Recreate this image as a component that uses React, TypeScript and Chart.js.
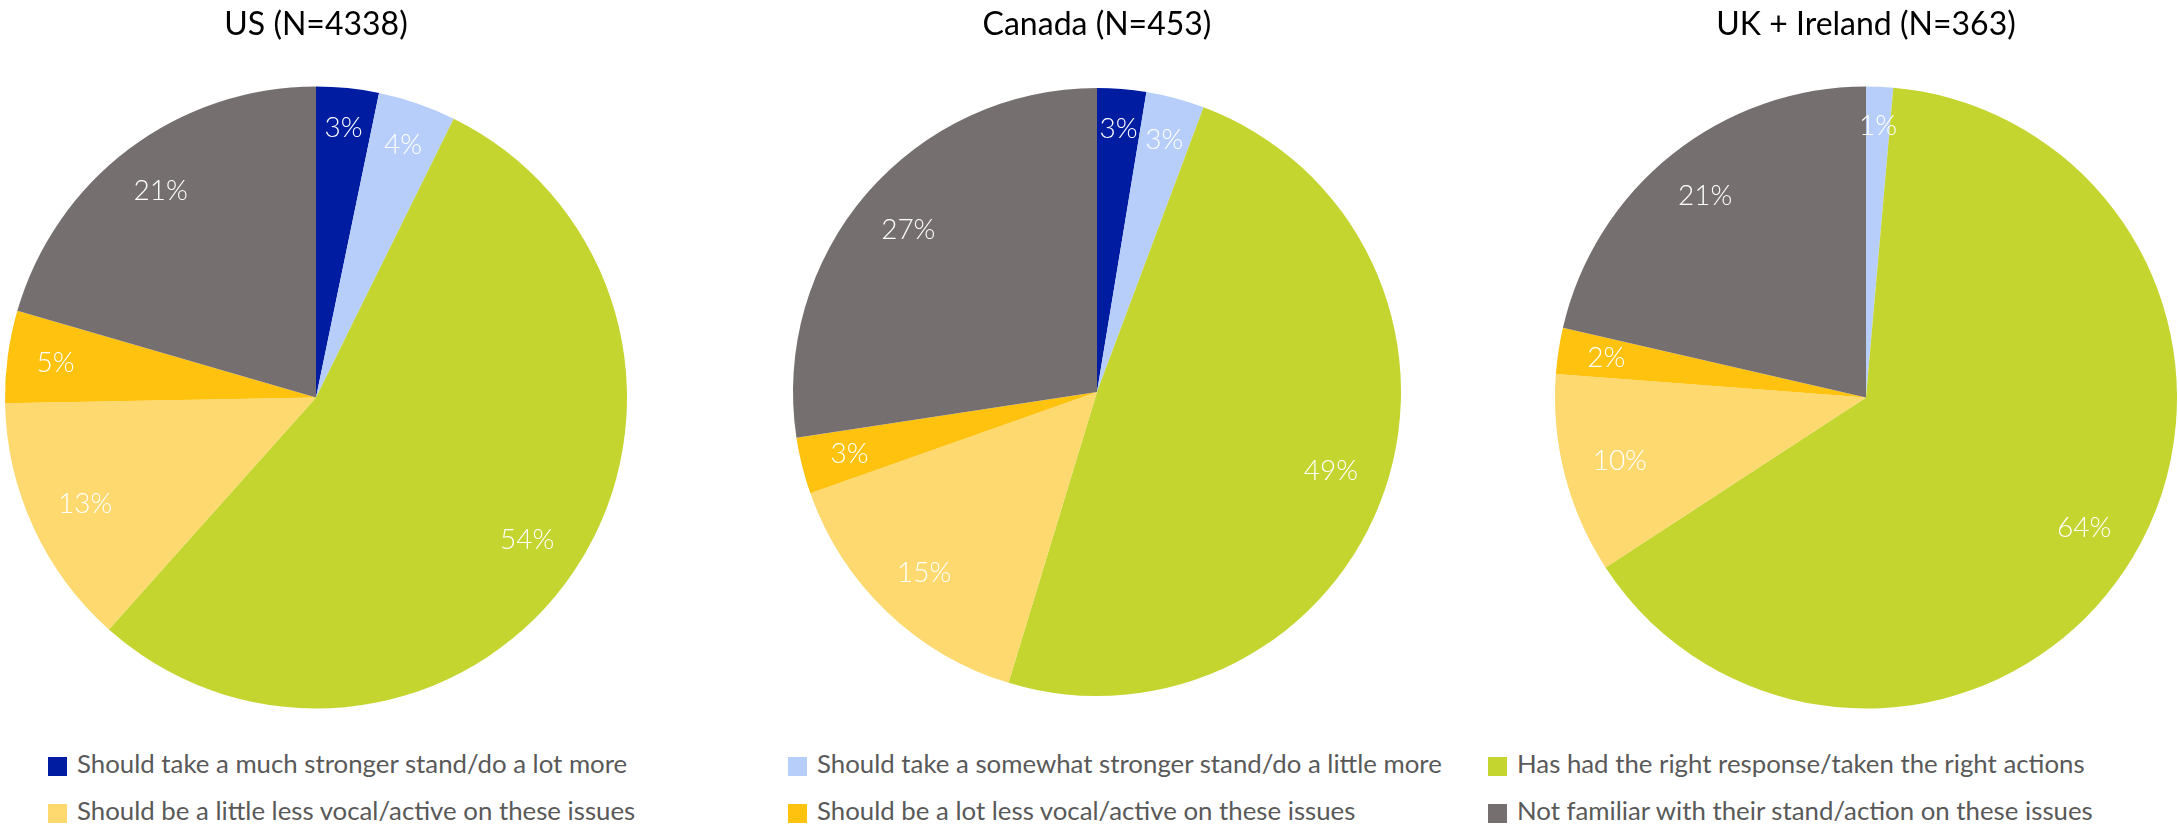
import React, { useEffect, useRef } from "react";
import { Chart, registerables } from "chart.js";

Chart.register(...registerables);

// ---------- DATA ----------
const categories = [
  "Should take a much stronger stand/do a lot more",
  "Should take a somewhat stronger stand/do a little more",
  "Has had the right response/taken the right actions",
  "Should be a little less vocal/active on these issues",
  "Should be a lot less vocal/active on these issues",
  "Not familiar with their stand/action on these issues",
];
const sliceColors = ["#001DA1", "#B7CEFB", "#C4D530", "#FDD96F", "#FFC20E", "#75706F"];
const usValues = [3.25, 4.05, 54.3, 13.1, 4.8, 20.5];
const canadaValues = [2.6, 3.1, 49.0, 14.9, 3.0, 27.4];
const ukValues = [0, 1.4, 64.4, 10.4, 2.4, 21.4];
const chartTitles = ["US (N=4338)", "Canada (N=453)", "UK + Ireland (N=363)"];

// ---------- STYLE / LAYOUT ----------
const FONT = "Lato, 'Noto Sans', sans-serif";
const LABEL_SIZE = 28;
const TITLE_SIZE = 32;
const LEGEND_SIZE = 25.8;

const boxes = [
  { left: 0, top: 0, width: 650, height: 720, padL: 5, padR: 23, padB: 11.5, titleBottom: 43.1 },
  { left: 774, top: 0, width: 650, height: 720, padL: 19, padR: 23, padB: 24, titleBottom: 44.6 },
  { left: 1540, top: 0, width: 650, height: 720, padL: 15, padR: 13, padB: 11.5, titleBottom: 43.1 },
];

const legendCols = [48, 788, 1488];
const legendRows = [773, 820];

const pctLabels = {
  id: "pctLabels",
  afterDatasetsDraw(chart: any) {
    const ctx = chart.ctx;
    const meta = chart.getDatasetMeta(0);
    const values = chart.data.datasets[0].data as number[];
    ctx.save();
    ctx.font = `300 ${LABEL_SIZE}px ${FONT}`;
    ctx.fillStyle = "#FFFFFF";
    ctx.textAlign = "center";
    ctx.textBaseline = "middle";
    meta.data.forEach((arc: any, i: number) => {
      const v = values[i];
      if (!v || v < 0.5) return;
      const p = arc.getProps(["x", "y", "startAngle", "endAngle", "outerRadius"], true);
      const mid = (p.startAngle + p.endAngle) / 2;
      const text = `${Math.round(v)}%`;
      const w = ctx.measureText(text).width;
      const h = LABEL_SIZE * 0.72;
      const proj = Math.abs(Math.cos(mid)) * w / 2 + Math.abs(Math.sin(mid)) * h / 2;
      const d = p.outerRadius - 28 - proj;
      ctx.fillText(text, p.x + Math.cos(mid) * d, p.y + Math.sin(mid) * d);
    });
    ctx.restore();
  },
};

function PieChart({ title, values, box }: { title: string; values: number[]; box: any }) {
  const ref = useRef<HTMLCanvasElement>(null);
  useEffect(() => {
    if (!ref.current) return;
    const chart = new Chart(ref.current, {
      type: "pie",
      data: {
        labels: categories,
        datasets: [
          {
            data: values,
            backgroundColor: sliceColors,
            borderWidth: 0,
          },
        ],
      },
      options: {
        animation: false,
        responsive: false,
        maintainAspectRatio: false,
        layout: { padding: { left: box.padL, right: box.padR, top: 0, bottom: box.padB } },
        plugins: {
          legend: { display: false },
          tooltip: { enabled: false },
          title: {
            display: true,
            text: title,
            color: "#000000",
            font: { family: FONT, size: TITLE_SIZE, weight: "normal", lineHeight: 1.2 },
            padding: { top: 5, bottom: box.titleBottom },
          },
        },
      },
      plugins: [pctLabels],
    });
    return () => chart.destroy();
  }, []);
  return (
    <canvas
      ref={ref}
      width={box.width}
      height={box.height}
      style={{ position: "absolute", left: box.left, top: box.top, width: box.width, height: box.height }}
    />
  );
}

export default function App() {
  return (
    <div
      style={{
        position: "absolute",
        left: 0,
        top: 0,
        width: 2178,
        height: 825,
        overflow: "hidden",
        background: "#FFFFFF",
      }}
    >
      <PieChart title={chartTitles[0]} values={usValues} box={boxes[0]} />
      <PieChart title={chartTitles[1]} values={canadaValues} box={boxes[1]} />
      <PieChart title={chartTitles[2]} values={ukValues} box={boxes[2]} />
      {categories.map((c, i) => {
        const col = legendCols[i % 3];
        const base = legendRows[Math.floor(i / 3)];
        return (
          <React.Fragment key={c}>
            <div
              style={{
                position: "absolute",
                left: col,
                top: base - 16,
                width: 19,
                height: 19,
                background: sliceColors[i],
              }}
            />
            <div
              style={{
                position: "absolute",
                left: col + 29,
                top: base - 26,
                fontFamily: FONT,
                fontWeight: 400,
                fontSize: LEGEND_SIZE,
                lineHeight: "32px",
                color: "#595959",
                whiteSpace: "nowrap",
              }}
            >
              {c}
            </div>
          </React.Fragment>
        );
      })}
    </div>
  );
}
